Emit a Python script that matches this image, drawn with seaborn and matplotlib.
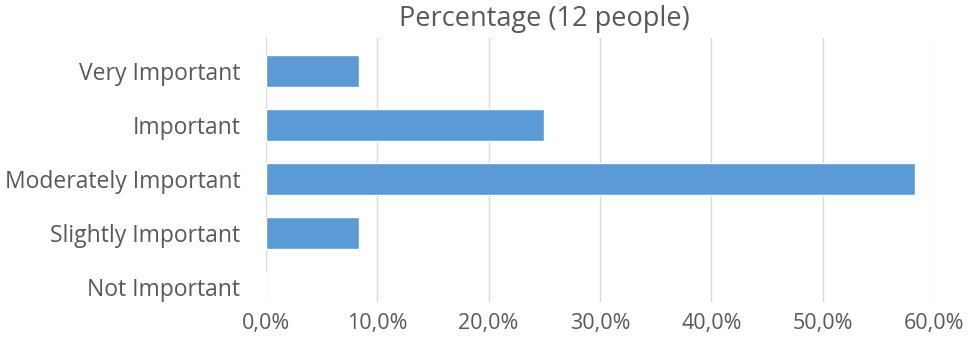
import matplotlib
matplotlib.use("Agg")
import matplotlib.pyplot as plt
import matplotlib.ticker as mticker
import seaborn as sns
import pandas as pd

categories = ["Very Important", "Important", "Moderately Important", "Slightly Important", "Not Important"]
percentages = [8.33, 25.0, 58.33, 8.33, 0.0]
xticks = [0, 10, 20, 30, 40, 50, 60]
title = "Percentage (12 people)"

df = pd.DataFrame({"category": categories, "pct": percentages})

sns.set_style("white")
plt.rcParams["font.family"] = ["Open Sans", "DejaVu Sans"]

fig = plt.figure(figsize=(9.73, 3.38), dpi=100)
W, H = 973, 338
ax = fig.add_axes([266 / W, 1 - 302 / H, (934 - 266) / W, (302 - 38) / H])

sns.barplot(data=df, x="pct", y="category", order=categories, color="#5B9BD5",
            width=0.59, saturation=1, ax=ax, orient="h")

ax.set_xlim(0, 60)
ax.set_ylim(4.278, -0.611)
ax.set_xticks(xticks)
ax.xaxis.set_major_formatter(mticker.FuncFormatter(lambda v, p: f"{v:.1f}%".replace(".", ",")))
ax.grid(axis="x", color="#D9D9D9", linewidth=1)
ax.set_axisbelow(True)
for s in ax.spines.values():
    s.set_visible(False)
ax.tick_params(axis="both", length=0, colors="#595959")
ax.tick_params(axis="y", labelsize=16.5, pad=18.5)
ax.tick_params(axis="x", labelsize=15.5, pad=8)
ax.set_xlabel("")
ax.set_ylabel("")
fig.text(544 / W, 1 - 19 / H, title, ha="center", va="center", fontsize=19.5, color="#595959")

fig.savefig("out.png", dpi=100)
